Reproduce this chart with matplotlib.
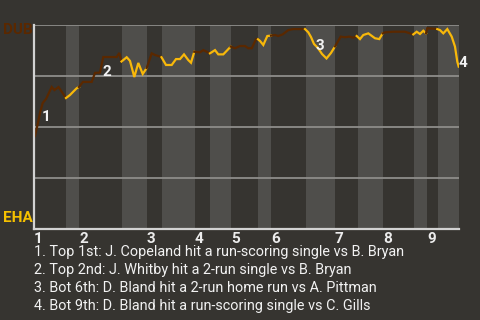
import numpy as np
import matplotlib
matplotlib.use("Agg")
import matplotlib.pyplot as plt

# ---- data ----
# position along the game (play axis units) and DUB win probability (%)
play_pos = [1, 3.5, 6, 8.7, 12, 17.7, 20.5, 24.5, 32,
            36, 39, 42.7, 45,
            49, 57.7, 61, 66, 69.3, 82.7, 85.3, 87.5,
            92.7, 96, 100.3, 104.3, 108.7, 112.7,
            117.7, 121, 126, 127.5,
            132, 137.7, 142, 146, 150, 154.3, 157, 160.3,
            166, 169.3, 176,
            181, 184.3, 189.3, 196.7,
            201, 206, 211, 214.3, 217.7, 222, 224,
            226, 229.3, 233.3, 237,
            241, 244.3, 248.7, 254.3, 259.3, 271,
            274.3, 277, 280, 284, 288, 292.5, 297, 301,
            306.7, 311, 315.3, 319.3, 322.7,
            326, 329.3, 334.3, 341, 345.3, 348.7,
            351, 359.3, 371, 376, 379.3,
            382.7, 386, 389.3, 392,
            393.3, 399.3, 403.3,
            406, 409.3, 413.3, 417.7, 421, 423.3, 424.7]
dub_wp = [45.6, 51.0, 56.9, 61.8, 63.7, 69.6, 68.1, 69.6, 64.2,
          65.7, 67.2, 69.0, 69.6,
          72.1, 72.1, 76.5, 76.7, 84.3, 84.3, 86.3, 82.1,
          84.2, 82.4, 74.5, 81.4, 76.0, 78.9,
          86.1, 85.3, 84.5, 84.2,
          80.4, 80.4, 83.3, 83.3, 85.6, 82.8, 81.5, 86.9,
          86.6, 87.7, 86.1,
          87.7, 85.6, 85.6, 89.4,
          88.6, 89.7, 89.7, 88.6, 88.6, 93.0, 93.0,
          92.2, 90.2, 94.6, 94.8,
          95.1, 94.6, 95.4, 97.5, 98.0, 98.0,
          96.4, 94.1, 90.7, 88.7, 85.8, 83.6, 86.3, 89.5,
          94.3, 94.0, 94.3, 93.8, 94.6,
          93.1, 95.1, 95.9, 93.5, 93.1, 95.9,
          96.4, 96.7, 96.7, 95.9, 95.4,
          96.7, 95.6, 97.2, 95.9,
          98.4, 98.2, 98.0,
          97.5, 95.9, 98.0, 94.3, 89.4, 82.0, 79.6]

# half-inning boundaries on the play axis (top 1st start ... end of bottom 9th)
half_bounds = [0, 32, 45, 88, 113, 128, 161, 176, 197, 224, 237, 272,
               301, 324, 349, 380, 393, 404, 425]
inning_labels = ["1", "2", "3", "4", "5", "6", "7", "8", "9"]

away_team, home_team = "DUB", "EHA"

events_x = [12, 73, 285.5, 429]
events_y = [55.1, 77.1, 89.9, 81.6]
events_lbl = ["1", "2", "3", "4"]
event_texts = [
    "1. Top 1st: J. Copeland hit a run-scoring single vs B. Bryan",
    "2. Top 2nd: J. Whitby hit a 2-run single vs B. Bryan",
    "3. Bot 6th: D. Bland hit a 2-run home run vs A. Pittman",
    "4. Bot 9th: D. Bland hit a run-scoring single vs C. Gills",
]

# ---- style ----
BG = "#363430"
BAND = "#4f4e4b"
BROWN = "#5a2800"
YELLOW = "#f8b80a"
FONT = ["Roboto", "DejaVu Sans"]

fig = plt.figure(figsize=(4.8, 3.2), dpi=100, facecolor=BG)
ax = fig.add_axes([34 / 480, 91 / 320, 425 / 480, 204 / 320])
ax.set_facecolor(BG)

# bottom-half shading
for k in range(1, len(half_bounds) - 1, 2):
    ax.axvspan(half_bounds[k], half_bounds[k + 1], color=BAND, lw=0, zorder=0)

# gridlines
ax.set_yticks([25, 50, 75, 100])
ax.set_yticklabels([])
ax.tick_params(axis="y", length=0)
ax.grid(axis="y", color="#8e8d8a", lw=1.3, zorder=1)
ax.set_ylim(0, 100)
ax.set_xlim(0, 425)

# win probability line coloured by half-inning
xs = np.array(play_pos)
ys = np.array(dub_wp)
half_idx = np.searchsorted(half_bounds, xs, side="left") - 1
half_idx = np.clip(half_idx, 0, len(half_bounds) - 2)
prev = None
for k in range(len(half_bounds) - 1):
    m = half_idx == k
    if not m.any():
        continue
    gx = list(xs[m])
    gy = list(ys[m])
    if prev is not None:
        gx = [prev[0]] + gx
        gy = [prev[1]] + gy
    ax.plot(gx, gy, color=BROWN if k % 2 == 0 else YELLOW, lw=1.6,
            solid_joinstyle="miter", zorder=3)
    prev = (gx[-1], gy[-1])

# event markers
for ex, ey, lb in zip(events_x, events_y, events_lbl):
    ax.text(ex, ey, lb, color="#f2f2f2", fontsize=11, fontweight="bold",
            family=FONT, ha="center", va="center", zorder=5, clip_on=False)

# spines
for s in ["top", "right"]:
    ax.spines[s].set_visible(False)
for s in ["left", "bottom"]:
    ax.spines[s].set_color("#d2d2d2")
    ax.spines[s].set_linewidth(1.6)
    ax.spines[s].set_zorder(4)

# inning ticks
ax.set_xticks(half_bounds[0::2][:9])
ax.set_xticklabels(inning_labels)
ax.tick_params(axis="x", length=0, pad=2, colors="#ececec", labelsize=11)
for t in ax.get_xticklabels():
    t.set_ha("left")
    t.set_fontweight("bold")
    t.set_family(FONT)

# team labels
fig.text(3 / 480, 1 - 30 / 320, away_team, color=BROWN, fontsize=11,
         fontweight="bold", family=FONT, ha="left", va="center")
fig.text(3 / 480, 1 - 218 / 320, home_team, color="#f5c000", fontsize=11,
         fontweight="bold", family=FONT, ha="left", va="center")

# event descriptions
for i, txt in enumerate(event_texts):
    fig.text(34 / 480, 1 - (252 + 18 * i) / 320, txt, color="#f2f2f2",
             fontsize=10.4, family=FONT, ha="left", va="center")

fig.savefig("out.png", dpi=100, facecolor=BG)
